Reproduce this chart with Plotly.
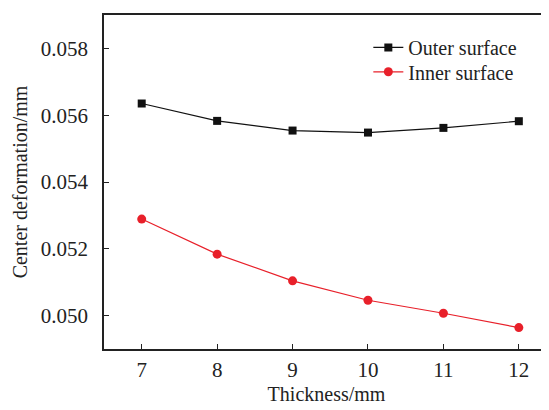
import plotly.graph_objects as go

thickness = [7, 8, 9, 10, 11, 12]
outer_surface = [0.05635, 0.05583, 0.05554, 0.05548, 0.05562, 0.05582]
inner_surface = [0.05289, 0.05184, 0.05104, 0.05046, 0.05007, 0.04964]

font_family = "Liberation Serif"

fig = go.Figure()
fig.add_trace(go.Scatter(
    x=thickness, y=outer_surface, mode="lines+markers", name="Outer surface",
    line=dict(color="#111111", width=1.2),
    marker=dict(symbol="square", size=8, color="#111111"),
    legend="legend",
))
fig.add_trace(go.Scatter(
    x=thickness, y=inner_surface, mode="lines+markers", name="Inner surface",
    line=dict(color="#e8202a", width=1.2),
    marker=dict(symbol="circle", size=9, color="#e8202a"),
    legend="legend2",
))

legend_common = dict(
    xanchor="left", yanchor="middle",
    bgcolor="rgba(0,0,0,0)", font=dict(size=20, family=font_family, color="#222222"),
    itemwidth=30, borderwidth=0,
)

fig.update_layout(
    width=549, height=410,
    margin=dict(l=96, r=8, t=5, b=69),
    paper_bgcolor="white", plot_bgcolor="white",
    font=dict(family=font_family, size=21, color="#222222"),
    showlegend=True,
    legend=dict(x=0.594, y=0.903, **legend_common),
    legend2=dict(x=0.594, y=0.830, **legend_common),
    xaxis=dict(
        range=[6.5, 12.4], tickvals=thickness, ticktext=[str(t) for t in thickness],
        showgrid=False, zeroline=False,
        showline=True, linecolor="#222222", linewidth=1.5, mirror=True,
        ticks="inside", ticklen=5, tickcolor="#222222", tickwidth=1,
        ticklabelstandoff=1,
        title=dict(text="Thickness/mm", font=dict(size=20), standoff=6),
    ),
    yaxis=dict(
        range=[0.049, 0.059], tickvals=[0.050, 0.052, 0.054, 0.056, 0.058],
        ticktext=["0.050", "0.052", "0.054", "0.056", "0.058"],
        showgrid=False, zeroline=False,
        showline=True, linecolor="#222222", linewidth=1.5,
        ticks="inside", ticklen=5, tickcolor="#222222", tickwidth=1,
        ticklabelstandoff=10,
        title=dict(text="Center deformation/mm", font=dict(size=20), standoff=8),
    ),
)

fig.write_html("out.html")
